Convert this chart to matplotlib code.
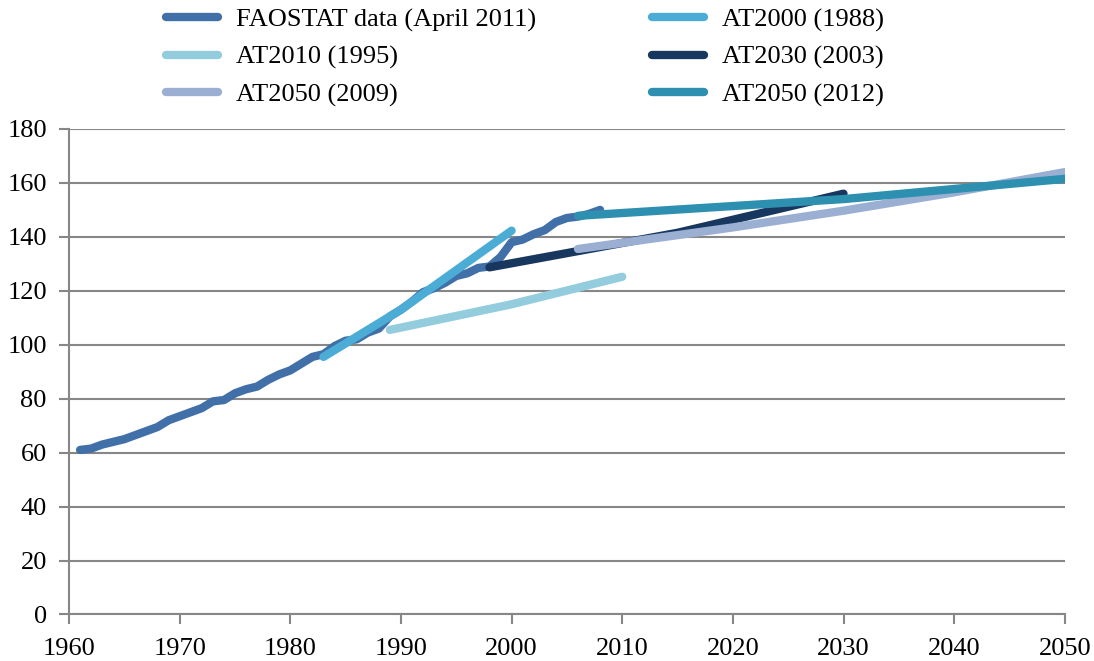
import numpy as np
import matplotlib.pyplot as plt

plt.rcParams['font.family'] = ['Liberation Serif', 'DejaVu Serif']

# FAOSTAT historical series
fao_years = list(range(1961, 2009))
fao_vals = [61, 61.5, 63, 64, 65, 66.5, 68, 69.5, 72, 73.5,
            75, 76.5, 79, 79.5, 82, 83.5, 84.5, 87, 89, 90.5,
            93, 95.5, 96.5, 99.5, 101.5, 102, 104.5, 106, 110.5, 113,
            116, 119.5, 121, 123, 125.5, 126.5, 128.5, 129, 132.5, 138,
            139, 141, 142.5, 145.5, 147, 147.5, 148.5, 150]

# projections
at2000_years = [1983, 1990, 2000]
at2000_vals = [95.5, 113, 142.3]

at2010_years = [1989, 2000, 2010]
at2010_vals = [105.5, 115, 125.2]

at2030_years = [1998, 2015, 2030]
at2030_vals = [128.7, 141.5, 156]

at2050a_years = [2006, 2020, 2030, 2040, 2050]
at2050a_vals = [135.5, 143.5, 149.7, 156.5, 164]

at2050b_years = [2006, 2030, 2050]
at2050b_vals = [147.8, 154, 161.5]

series = [
    (fao_years, fao_vals, '#4170A8', 'FAOSTAT data (April 2011)'),
    (at2000_years, at2000_vals, '#4BACD6', 'AT2000 (1988)'),
    (at2010_years, at2010_vals, '#93CDDD', 'AT2010 (1995)'),
    (at2030_years, at2030_vals, '#17375E', 'AT2030 (2003)'),
    (at2050a_years, at2050a_vals, '#9BAFD3', 'AT2050 (2009)'),
    (at2050b_years, at2050b_vals, '#2E90B0', 'AT2050 (2012)'),
]

fig = plt.figure(figsize=(10.94, 6.61), dpi=100)
ax = fig.add_axes([0.0631, 0.0704, 0.9102, 0.7345])

lines = []
for x, y, c, lab in series:
    ln, = ax.plot(x, y, color=c, lw=6, label=lab, solid_capstyle='round',
                  solid_joinstyle='round')
    lines.append(ln)

ax.set_xlim(1960, 2050)
ax.set_ylim(0, 180)
ax.set_xticks(np.arange(1960, 2051, 10))
ax.set_yticks(np.arange(0, 181, 20))
ax.grid(axis='y', color='#878787', lw=1.5)
ax.set_axisbelow(True)
for s in ['top', 'right']:
    ax.spines[s].set_visible(False)
for s in ['left', 'bottom']:
    ax.spines[s].set_color('#878787')
    ax.spines[s].set_linewidth(1.5)
ax.tick_params(axis='both', colors='#878787', width=1.5, length=7,
               labelcolor='black', labelsize=19)
ax.tick_params(axis='y', pad=9)
ax.tick_params(axis='x', pad=10)

# legend filled row by row, two columns
order = [0, 2, 4, 1, 3, 5]
fig.legend([lines[i] for i in order], [series[i][3] for i in order],
           loc='upper left', bbox_to_anchor=(0.152, 0.988), ncol=2,
           frameon=False, fontsize=19, handlelength=1.95, handletextpad=0.7,
           columnspacing=4.4, labelspacing=0.52, borderpad=0,
           borderaxespad=0)

fig.savefig('out.png', dpi=100)
